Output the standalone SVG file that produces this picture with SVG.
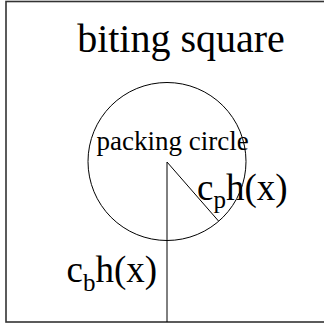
<svg xmlns="http://www.w3.org/2000/svg" width="324" height="328" viewBox="0 0 324 328">
<style>
.t{font-family:"Liberation Serif","Times New Roman",serif;fill:#000}
.ln{fill:none;stroke:#000;stroke-width:1}
</style>
<rect width="324" height="328" fill="#fff"/>
<g id="biting-square">
<rect x="6" y="1.5" width="322" height="320.5" fill="none" stroke="#333" stroke-width="1.6"/>
<text class="t" x="181" y="52" font-size="40" text-anchor="middle">biting square</text>
</g>
<g id="packing-circle">
<circle class="ln" cx="167" cy="161.5" r="79"/>
<text class="t" x="96.5" y="150" font-size="27">packing circle</text>
</g>
<g id="connectors">
<line class="ln" x1="167" y1="162" x2="167" y2="322"/>
<line class="ln" x1="167" y1="162" x2="218.5" y2="221"/>
</g>
<g id="label-cp">
<text class="t" x="197" y="199.5" font-size="37">c<tspan font-size="25" dy="8">p</tspan><tspan dy="-8">h(x)</tspan></text>
</g>
<g id="label-cb">
<text class="t" x="66.5" y="281.5" font-size="37">c<tspan font-size="25" dy="9">b</tspan><tspan dy="-9">h(x)</tspan></text>
</g>
</svg>
